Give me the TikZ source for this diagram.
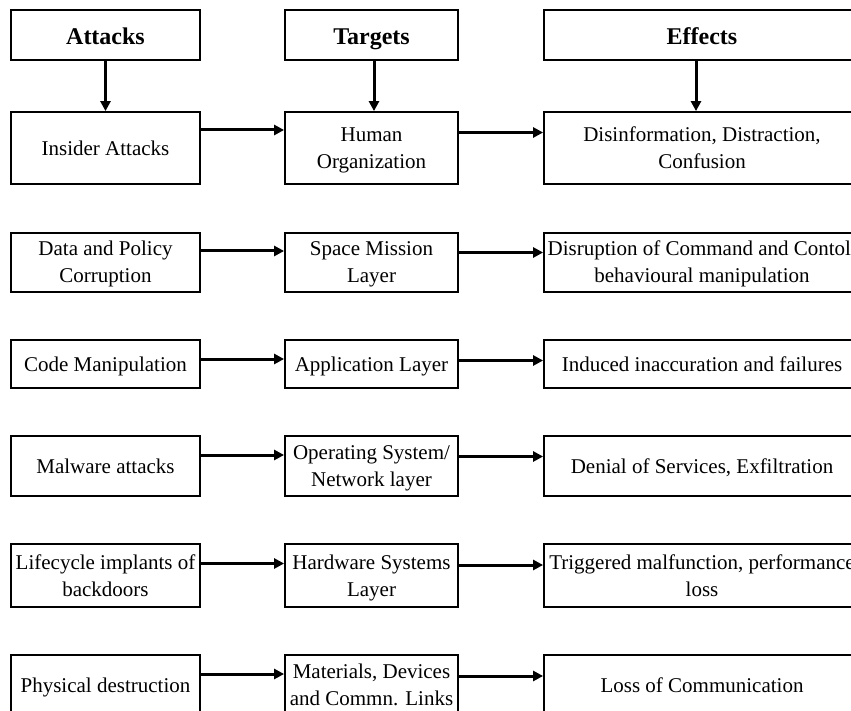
\documentclass[tikz,border=0pt]{standalone}
\usepackage{fontspec}
\setmainfont{Liberation Serif}
\usetikzlibrary{arrows.meta}
\newcommand\mytopstrut{\rule{0pt}{19pt}}
\newcommand\mybotstrut{\rule[-5pt]{0pt}{5pt}}
\begin{document}
\begin{tikzpicture}[x=1pt,y=-1pt,
  box/.style={draw=black, line width=1.8pt, rectangle, inner sep=0pt, align=center,
    font=\fontsize{21}{27}\selectfont},
  one/.style={box, text height=15pt, text depth=0pt},
  two/.style={box},
  head/.style={box, font=\fontsize{24}{28}\selectfont\bfseries, text height=20pt, text depth=0pt},
  arr/.style={draw=black, line width=3pt, -{Triangle[length=10pt,width=10pt]}}]
\useasboundingbox (0,0) rectangle (851,711);
\clip (0,0) rectangle (851,711);
% headers
\node[head, minimum width=189pt, minimum height=50pt] (ha) at (105.5,35) {Attacks};
\node[head, minimum width=173pt, minimum height=50pt] (ht) at (371.5,35) {Targets};
\node[head, minimum width=316pt, minimum height=50pt] (he) at (702,35) {Effects};
% row 1
\node[one, minimum width=189pt, minimum height=72pt] (a1) at (105.5,148) {Insider Attacks};
\node[two, minimum width=173pt, minimum height=72pt] (t1) at (371.5,148) {\mytopstrut Human\\Organization\mybotstrut};
\node[two, minimum width=316pt, minimum height=72pt] (e1) at (702,148) {\mytopstrut Disinformation, Distraction,\\Confusion\mybotstrut};
% row 2
\node[two, minimum width=189pt, minimum height=59pt] (a2) at (105.5,262.5) {\mytopstrut Data and Policy\\Corruption\mybotstrut};
\node[two, minimum width=173pt, minimum height=59pt] (t2) at (371.5,262.5) {\mytopstrut Space Mission\\Layer\mybotstrut};
\node[two, minimum width=316pt, minimum height=59pt] (e2) at (702,262.5) {\mytopstrut Disruption of Command and Contol,\\behavioural manipulation\mybotstrut};
% row 3
\node[one, minimum width=189pt, minimum height=48pt] (a3) at (105.5,364) {Code Manipulation};
\node[one, minimum width=173pt, minimum height=48pt] (t3) at (371.5,364) {Application Layer};
\node[one, minimum width=316pt, minimum height=48pt] (e3) at (702,364) {Induced inaccuration and failures};
% row 4
\node[one, minimum width=189pt, minimum height=60pt] (a4) at (105.5,466) {Malware attacks};
\node[two, minimum width=173pt, minimum height=60pt] (t4) at (371.5,466) {\mytopstrut Operating System/\\Network layer\mybotstrut};
\node[one, minimum width=316pt, minimum height=60pt] (e4) at (702,466) {Denial of Services, Exfiltration};
% row 5
\node[two, minimum width=189pt, minimum height=63pt] (a5) at (105.5,575.5) {\mytopstrut Lifecycle implants of\\backdoors\mybotstrut};
\node[two, minimum width=173pt, minimum height=63pt] (t5) at (371.5,575.5) {\mytopstrut Hardware Systems\\Layer\mybotstrut};
\node[two, minimum width=316pt, minimum height=63pt] (e5) at (702,575.5) {\mytopstrut Triggered malfunction, performance\\loss\mybotstrut};
% row 6
\node[one, minimum width=189pt, minimum height=60pt] (a6) at (105.5,685) {Physical destruction};
\node[two, minimum width=173pt, minimum height=60pt] (t6) at (371.5,685) {\mytopstrut Materials, Devices\\and Commn. Links\mybotstrut};
\node[one, minimum width=316pt, minimum height=60pt] (e6) at (702,685) {Loss of Communication};
% vertical arrows
\draw[arr] (ha) -- (a1);
\draw[arr] ([xshift=2.5pt]ht.south) -- ([xshift=2.5pt]t1.north);
\draw[arr] ([xshift=-6pt]he.south) -- ([xshift=-6pt]e1.north);
% horizontal arrows
\draw[arr] ([yshift=18pt]a1.east) -- ([yshift=18pt]t1.west);
\draw[arr] ([yshift=15.5pt]t1.east) -- ([yshift=15.5pt]e1.west);
\draw[arr] ([yshift=11.5pt]a2.east) -- ([yshift=11.5pt]t2.west);
\draw[arr] ([yshift=10pt]t2.east) -- ([yshift=10pt]e2.west);
\draw[arr] ([yshift=5pt]a3.east) -- ([yshift=5pt]t3.west);
\draw[arr] ([yshift=3.5pt]t3.east) -- ([yshift=3.5pt]e3.west);
\draw[arr] ([yshift=11pt]a4.east) -- ([yshift=11pt]t4.west);
\draw[arr] ([yshift=9.5pt]t4.east) -- ([yshift=9.5pt]e4.west);
\draw[arr] ([yshift=12pt]a5.east) -- ([yshift=12pt]t5.west);
\draw[arr] ([yshift=10.5pt]t5.east) -- ([yshift=10.5pt]e5.west);
\draw[arr] ([yshift=11pt]a6.east) -- ([yshift=11pt]t6.west);
\draw[arr] ([yshift=9pt]t6.east) -- ([yshift=9pt]e6.west);
\end{tikzpicture}
\end{document}
